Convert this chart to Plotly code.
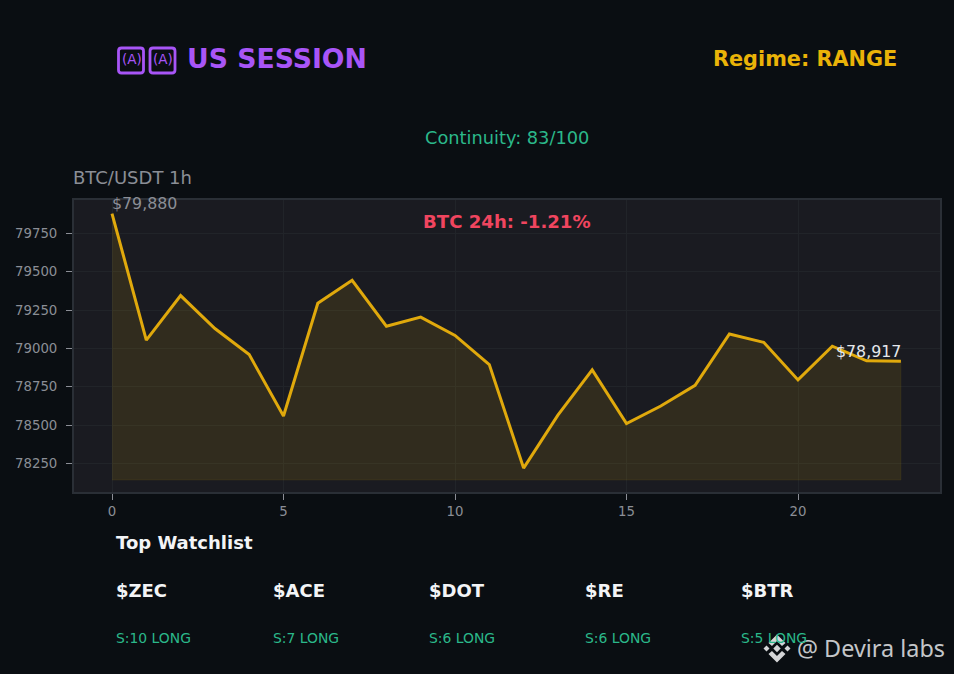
import plotly.graph_objects as go

hours = list(range(24))
prices = [79880, 79055, 79345, 79130, 78960, 78560, 79295, 79445, 79145, 79205, 79085, 78895,
          78220, 78565, 78860, 78510, 78625, 78760, 79095, 79040, 78795, 79015, 78920, 78917]
baseline = 78142
x_ticks = [0, 5, 10, 15, 20]
y_ticks = [78250, 78500, 78750, 79000, 79250, 79500, 79750]
watchlist = ['$ZEC', '$ACE', '$DOT', '$RE', '$BTR']
scores = ['S:10 LONG', 'S:7 LONG', 'S:6 LONG', 'S:6 LONG', 'S:5 LONG']
watch_left = [116, 272.5, 429, 585, 741]

# plot area in page pixels
L, R, T, B = 74, 940, 200, 492
W, H = 954, 674
BG = '#0a0e12'
GREEN = '#2bb88a'
PURPLE = '#a855f7'
FONT = 'DejaVu Sans'


def px(x):
    return (x - L) / (R - L)


def py(y):
    return (B - y) / (B - T)


def label(text, x, y, size, color, bold=False, xanchor='left', family=FONT):
    if bold:
        text = '<b>' + text + '</b>'
    # annotations sit about 2px inside their anchor
    if xanchor == 'left':
        x -= 2
    elif xanchor == 'right':
        x += 2
    return dict(text=text, x=px(x), y=py(y), xref='paper', yref='paper', showarrow=False,
                xanchor=xanchor, yanchor='middle', font=dict(size=size, color=color, family=family))


def logo_path(points, cx=777, cy=648.5):
    parts = ['%.5f %.5f' % (px(cx + a), py(cy + b)) for a, b in points]
    return 'M' + ' L'.join(parts) + ' Z'


def round_box(x0, y0, x1, y1, r=3):
    p = lambda x, y: '%.5f %.5f' % (px(x), py(y))
    return ('M' + p(x0 + r, y0) + ' L' + p(x1 - r, y0) + ' Q' + p(x1, y0) + ' ' + p(x1, y0 + r)
            + ' L' + p(x1, y1 - r) + ' Q' + p(x1, y1) + ' ' + p(x1 - r, y1)
            + ' L' + p(x0 + r, y1) + ' Q' + p(x0, y1) + ' ' + p(x0, y1 - r)
            + ' L' + p(x0, y0 + r) + ' Q' + p(x0, y0) + ' ' + p(x0 + r, y0) + ' Z')


fig = go.Figure()
fig.add_trace(go.Scatter(
    x=hours + [hours[-1], hours[0]],
    y=prices + [baseline, baseline],
    mode='lines',
    fill='toself',
    fillcolor='rgba(234,179,8,0.11)',
    line=dict(color='rgba(234,179,8,0.08)', width=1),
    hoverinfo='skip',
))
fig.add_trace(go.Scatter(x=hours, y=prices, mode='lines', line=dict(color='#e0a90c', width=3)))

notes = [
    label('US SESSION', 187, 58, 26.7, PURPLE, bold=True),
    label('Regime: RANGE', 897, 59, 20.8, '#eab308', bold=True, xanchor='right'),
    label('Continuity: 83/100', 507, 137.6, 17.8, GREEN, xanchor='center'),
    label('BTC/USDT 1h', 72.5, 178, 18, '#8b8e96'),
    label('BTC 24h: -1.21%', 507, 221.5, 18.1, '#f0455f', bold=True, xanchor='center'),
    label('$79,880', 112, 203, 15.8, '#8b8e96'),
    label('$78,917', 836, 351, 15.8, '#e5e7eb'),
    label('Top Watchlist', 116, 542, 18, '#f3f4f6', bold=True),
    label('@ Devira labs', 945, 648, 23.4, '#c4c6c9', xanchor='right', family='Noto Sans'),
    label('(A)', 131.5, 59.5, 13.5, PURPLE, xanchor='center'),
    label('(A)', 162.5, 59.5, 13.5, PURPLE, xanchor='center'),
]
for name, score, left in zip(watchlist, scores, watch_left):
    notes.append(label(name, left, 590, 18, '#f3f4f6', bold=True))
    notes.append(label(score, left, 638, 13.9, GREEN))

logo = [
    [(0, -14), (8.5, -5.5), (5, -2.5), (0, -7.5), (-5, -2.5), (-8.5, -5.5)],
    [(0, 14), (8.5, 5.5), (5, 2.5), (0, 7.5), (-5, 2.5), (-8.5, 5.5)],
    [(0, -3.7), (3.7, 0), (0, 3.7), (-3.7, 0)],
    [(-10.5, -3), (-7.5, 0), (-10.5, 3), (-13.5, 0)],
    [(10.5, -3), (13.5, 0), (10.5, 3), (7.5, 0)],
]
shapes = [dict(type='path', xref='paper', yref='paper', path=logo_path(p),
               fillcolor='#d4d5d7', line=dict(width=0), layer='above') for p in logo]

# the flag falls back to two missing-glyph boxes in the title
for x0 in [118.5, 150]:
    shapes.append(dict(type='path', xref='paper', yref='paper', path=round_box(x0, 48, x0 + 25, 73),
                       line=dict(color=PURPLE, width=2.8), layer='above'))

fig.update_layout(
    width=W,
    height=H,
    margin=dict(l=L, r=W - R, t=T, b=H - B, pad=0),
    paper_bgcolor=BG,
    plot_bgcolor='#1a1b21',
    showlegend=False,
    annotations=notes,
    shapes=shapes,
    xaxis=dict(range=[-1.108, 24.14], tickvals=x_ticks, showgrid=True, gridcolor='#212429', gridwidth=1,
               zeroline=False, ticks='outside', ticklen=6, tickcolor='#8b8e96',
               tickfont=dict(size=13.3, color='#8b8e96', family=FONT),
               showline=True, mirror=True, linecolor='#2a2f36', linewidth=2),
    yaxis=dict(range=[78064, 79968.5], tickvals=y_ticks, tickformat='d', showgrid=True, gridcolor='#212429', gridwidth=1,
               zeroline=False, ticks='outside', ticklen=6, tickcolor='#8b8e96', ticklabelstandoff=6,
               tickfont=dict(size=13.3, color='#8b8e96', family=FONT),
               showline=True, mirror=True, linecolor='#2a2f36', linewidth=2),
)

fig.write_html("out.html", config={'displayModeBar': False},
               post_script="document.body.style.margin='0';document.body.style.background='%s';" % BG)
